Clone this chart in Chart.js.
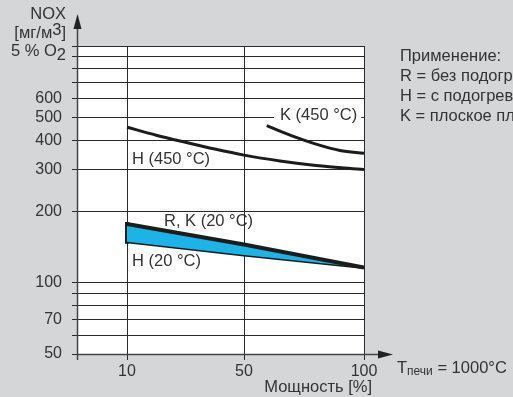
<!DOCTYPE html>
<html>
<head>
<meta charset="utf-8">
<script src="https://cdn.jsdelivr.net/npm/chart.js@4"></script>
<style>
  html, body { margin: 0; padding: 0; background: #d5d6d8; }
</style>
</head>
<body>
<canvas id="nox" width="513" height="397"></canvas>
<script>
// x axis of the original is not proportional: ticks sit at these pixel-ish positions
const powerTicks = [10, 50, 100];
const tickPositions = [0, 117, 237];

const yGridValues = [50, 60, 70, 80, 90, 100, 200, 300, 400, 500, 600, 700, 800, 900, 1000];
const yTickLabels = [50, 70, 100, 200, 300, 400, 500, 600];

const h450Power = [10, 20, 30, 40, 50, 65, 80, 100];
const h450Nox = [454, 420, 392, 367, 346, 327, 313, 301];

const k450Power = [59.5, 70, 80, 90, 100];
const k450Nox = [461, 417, 385, 362, 352];

const rk20Power = [10, 50, 100];
const rk20Nox = [177, 145, 116];

const h20Power = [10, 50, 100];
const h20Nox = [149, 131, 116];

const lineColour = "#1c1c1c";
const gridColour = "#2a2a2a";
const fillColour = "#1ab4e6";
const textColour = "#333333";
const bgColour = "#d5d6d8";
const fontFamily = "'Liberation Sans', Arial, sans-serif";
const textSize = 16.5;

// map a power value onto the piecewise axis
const toPos = (p) => {
  for (let i = 0; i < powerTicks.length - 1; i++) {
    if (p <= powerTicks[i + 1]) {
      const t = (p - powerTicks[i]) / (powerTicks[i + 1] - powerTicks[i]);
      return tickPositions[i] + t * (tickPositions[i + 1] - tickPositions[i]);
    }
  }
  return tickPositions[tickPositions.length - 1];
};

const points = (xs, ys) => xs.map((p, i) => ({ x: toPos(p), y: ys[i] }));

const lineSet = (data, width, extra) => Object.assign({
  data: data,
  borderColor: lineColour,
  borderWidth: width,
  pointRadius: 0,
  fill: false,
  tension: 0,
}, extra || {});

const drawRuns = (ctx, runs, x, y, align) => {
  let total = 0;
  runs.forEach((r) => {
    ctx.font = r.size + "px " + fontFamily;
    total += ctx.measureText(r.t).width;
  });
  let cx = align === "right" ? x - total : x;
  ctx.textAlign = "left";
  ctx.textBaseline = "middle";
  runs.forEach((r) => {
    ctx.font = r.size + "px " + fontFamily;
    ctx.fillText(r.t, cx, y + (r.dy || 0));
    cx += ctx.measureText(r.t).width;
  });
};

const decorations = {
  id: "decorations",
  beforeDraw(chart) {
    const ctx = chart.ctx;
    const a = chart.chartArea;
    ctx.save();
    ctx.fillStyle = bgColour;
    ctx.fillRect(0, 0, chart.width, chart.height);
    ctx.fillStyle = "#ffffff";
    ctx.fillRect(a.left, a.top, a.right - a.left, a.bottom - a.top);
    ctx.restore();
  },
  afterDraw(chart) {
    const ctx = chart.ctx;
    const a = chart.chartArea;
    const s = textSize;
    ctx.save();

    // axes with arrows
    ctx.strokeStyle = "#444";
    ctx.fillStyle = "#222";
    ctx.lineWidth = 1.5;
    ctx.beginPath();
    ctx.moveTo(a.left + 0.5, 24);
    ctx.lineTo(a.left + 0.5, a.bottom + 6);
    ctx.moveTo(a.left, a.bottom + 0.5);
    ctx.lineTo(386, a.bottom + 0.5);
    ctx.stroke();
    ctx.beginPath();
    ctx.moveTo(a.left + 0.5, 14);
    ctx.lineTo(a.left - 3.5, 29);
    ctx.lineTo(a.left + 4.5, 29);
    ctx.closePath();
    ctx.fill();
    ctx.beginPath();
    ctx.moveTo(393, a.bottom + 0.5);
    ctx.lineTo(378, a.bottom - 3.5);
    ctx.lineTo(378, a.bottom + 4.5);
    ctx.closePath();
    ctx.fill();

    ctx.fillStyle = textColour;
    // y axis header
    drawRuns(ctx, [{ t: "NOX", size: s }], 66, 14, "right");
    drawRuns(ctx, [{ t: "[мг/м", size: s }, { t: "3", size: s, dy: -3 }, { t: "]", size: s }], 66, 33, "right");
    drawRuns(ctx, [{ t: "5 % O", size: s }, { t: "2", size: s, dy: 4 }], 66, 51, "right");

    // curve labels
    ctx.font = s + "px " + fontFamily;
    const kw = ctx.measureText("K (450 °C)").width;
    ctx.fillStyle = "#ffffff";
    ctx.fillRect(274, 107, kw + 10, 17);
    ctx.fillStyle = textColour;
    drawRuns(ctx, [{ t: "K (450 °C)", size: s }], 280, 115, "left");
    drawRuns(ctx, [{ t: "H (450 °C)", size: s }], 132, 159, "left");
    drawRuns(ctx, [{ t: "R, K (20 °C)", size: s }], 164, 221, "left");
    drawRuns(ctx, [{ t: "H (20 °C)", size: s }], 132, 261, "left");

    // x axis title and furnace temperature
    drawRuns(ctx, [{ t: "Мощность [%]", size: s }], 372, 387, "right");
    drawRuns(ctx, [{ t: "T", size: s }, { t: "печи", size: 12, dy: 4 }, { t: " = 1000°C", size: s }], 397, 368, "left");

    // legend
    const legend = ["Применение:", "R = без подогрева", "H = с подогревом", "K = плоское пламя"];
    legend.forEach((t, i) => drawRuns(ctx, [{ t: t, size: s }], 400, 56 + i * 20, "left"));

    ctx.restore();
  },
};

new Chart(document.getElementById("nox"), {
  type: "line",
  data: {
    datasets: [
      lineSet(points(rk20Power, rk20Nox), 4, { fill: "+1", backgroundColor: fillColour }),
      lineSet(points(h20Power, h20Nox), 3),
      lineSet(points([10, 10], [rk20Nox[0], h20Nox[0]]), 4, { borderCapStyle: "square" }),
      lineSet(points(h450Power, h450Nox), 3, { cubicInterpolationMode: "monotone" }),
      lineSet(points(k450Power, k450Nox), 3, { cubicInterpolationMode: "monotone" }),
    ],
  },
  options: {
    responsive: false,
    animation: false,
    devicePixelRatio: 1,
    layout: { padding: { top: 46, right: 149, left: 0, bottom: 0 } },
    plugins: { legend: { display: false }, tooltip: { enabled: false } },
    scales: {
      x: {
        type: "linear",
        min: -50,
        max: 237,
        afterBuildTicks: (sc) => { sc.ticks = tickPositions.map((v) => ({ value: v })); },
        afterFit: (sc) => { sc.height = 43; },
        border: { display: false },
        grid: { color: gridColour, lineWidth: 1, tickLength: 6 },
        ticks: {
          autoSkip: false,
          maxRotation: 0,
          padding: 2,
          color: textColour,
          font: { family: fontFamily, size: 16 },
          callback: (v) => powerTicks[tickPositions.indexOf(v)],
        },
      },
      y: {
        type: "logarithmic",
        min: 50,
        max: 1000,
        afterBuildTicks: (sc) => { sc.ticks = yGridValues.map((v) => ({ value: v })); },
        afterFit: (sc) => { sc.width = 77; },
        border: { display: false },
        grid: { color: gridColour, lineWidth: 1, tickLength: 5 },
        ticks: {
          autoSkip: false,
          padding: 10,
          color: textColour,
          font: { family: fontFamily, size: 16 },
          callback: (v) => (yTickLabels.includes(v) ? String(v) : ""),
        },
      },
    },
  },
  plugins: [decorations],
});
</script>
</body>
</html>
